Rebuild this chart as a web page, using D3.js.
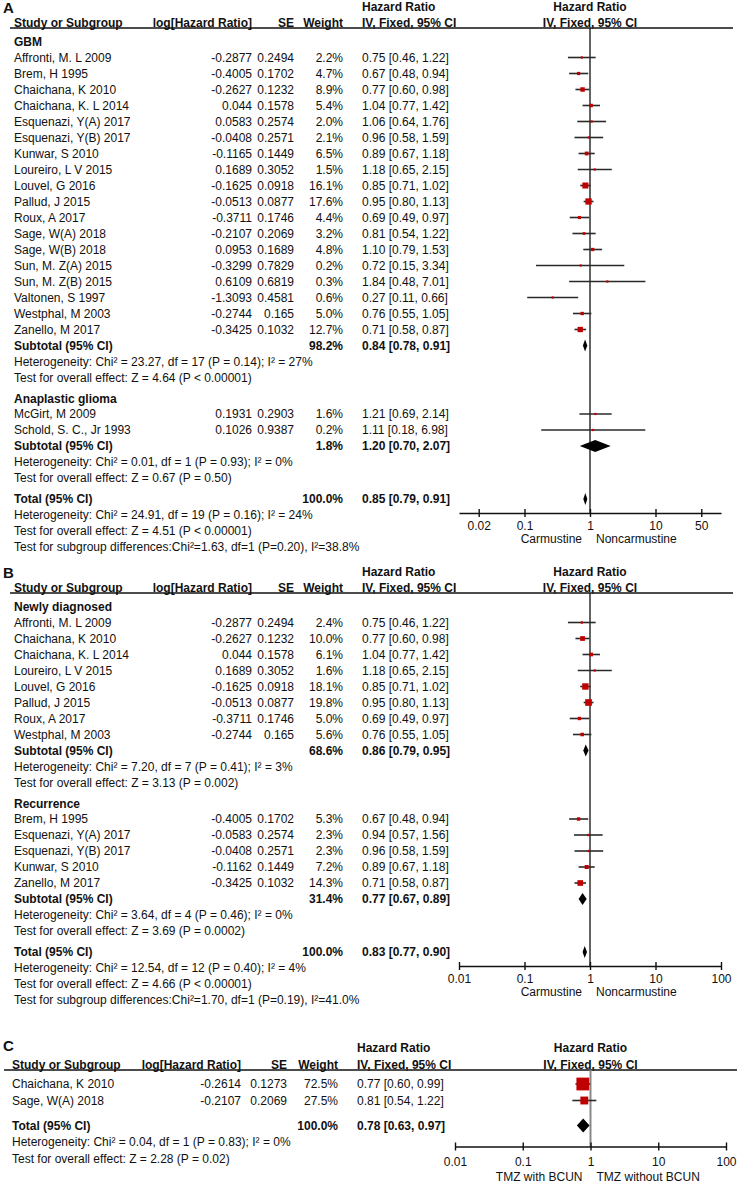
<!DOCTYPE html>
<html><head><meta charset="utf-8">
<script src="https://cdn.jsdelivr.net/npm/d3@7"></script>
<style>body{margin:0;background:#fff}</style>
</head><body><svg id="c" width="738" height="1184"></svg>
<script>
// ---------------- DATA ----------------
const columnHeaders = ["Study or Subgroup", "log[Hazard Ratio]", "SE", "Weight"];
const ciHeaders = ["Hazard Ratio", "IV, Fixed, 95% CI"];

// [study, logHR, SE, weight%, HR, lower, upper]
const gbmStudies = [
  ["Affronti, M. L 2009", -0.2877, 0.2494, 2.2, 0.75, 0.46, 1.22],
  ["Brem, H 1995", -0.4005, 0.1702, 4.7, 0.67, 0.48, 0.94],
  ["Chaichana, K 2010", -0.2627, 0.1232, 8.9, 0.77, 0.60, 0.98],
  ["Chaichana, K. L 2014", 0.044, 0.1578, 5.4, 1.04, 0.77, 1.42],
  ["Esquenazi, Y(A) 2017", 0.0583, 0.2574, 2.0, 1.06, 0.64, 1.76],
  ["Esquenazi, Y(B) 2017", -0.0408, 0.2571, 2.1, 0.96, 0.58, 1.59],
  ["Kunwar, S 2010", -0.1165, 0.1449, 6.5, 0.89, 0.67, 1.18],
  ["Loureiro, L V 2015", 0.1689, 0.3052, 1.5, 1.18, 0.65, 2.15],
  ["Louvel, G 2016", -0.1625, 0.0918, 16.1, 0.85, 0.71, 1.02],
  ["Pallud, J 2015", -0.0513, 0.0877, 17.6, 0.95, 0.80, 1.13],
  ["Roux, A 2017", -0.3711, 0.1746, 4.4, 0.69, 0.49, 0.97],
  ["Sage, W(A) 2018", -0.2107, 0.2069, 3.2, 0.81, 0.54, 1.22],
  ["Sage, W(B) 2018", 0.0953, 0.1689, 4.8, 1.10, 0.79, 1.53],
  ["Sun, M. Z(A) 2015", -0.3299, 0.7829, 0.2, 0.72, 0.15, 3.34],
  ["Sun, M. Z(B) 2015", 0.6109, 0.6819, 0.3, 1.84, 0.48, 7.01],
  ["Valtonen, S 1997", -1.3093, 0.4581, 0.6, 0.27, 0.11, 0.66],
  ["Westphal, M 2003", -0.2744, 0.165, 5.0, 0.76, 0.55, 1.05],
  ["Zanello, M 2017", -0.3425, 0.1032, 12.7, 0.71, 0.58, 0.87]
];
// [weight%, HR, lower, upper]
const gbmSubtotal = [98.2, 0.84, 0.78, 0.91];
const gbmStats = ["Heterogeneity: Chi\u00b2 = 23.27, df = 17 (P = 0.14); I\u00b2 = 27%",
                  "Test for overall effect: Z = 4.64 (P < 0.00001)"];

const agStudies = [
  ["McGirt, M 2009", 0.1931, 0.2903, 1.6, 1.21, 0.69, 2.14],
  ["Schold, S. C., Jr 1993", 0.1026, 0.9387, 0.2, 1.11, 0.18, 6.98]
];
const agSubtotal = [1.8, 1.20, 0.70, 2.07];
const agStats = ["Heterogeneity: Chi\u00b2 = 0.01, df = 1 (P = 0.93); I\u00b2 = 0%",
                 "Test for overall effect: Z = 0.67 (P = 0.50)"];

const totalA = [100.0, 0.85, 0.79, 0.91];
const totalAStats = ["Heterogeneity: Chi\u00b2 = 24.91, df = 19 (P = 0.16); I\u00b2 = 24%",
                     "Test for overall effect: Z = 4.51 (P < 0.00001)",
                     "Test for subgroup differences:Chi\u00b2=1.63, df=1 (P=0.20), I\u00b2=38.8%"];
const ticksA = [0.02, 0.1, 1, 10, 50];
const sideLabelsA = ["Carmustine", "Noncarmustine"];

const newStudies = [
  ["Affronti, M. L 2009", -0.2877, 0.2494, 2.4, 0.75, 0.46, 1.22],
  ["Chaichana, K 2010", -0.2627, 0.1232, 10.0, 0.77, 0.60, 0.98],
  ["Chaichana, K. L 2014", 0.044, 0.1578, 6.1, 1.04, 0.77, 1.42],
  ["Loureiro, L V 2015", 0.1689, 0.3052, 1.6, 1.18, 0.65, 2.15],
  ["Louvel, G 2016", -0.1625, 0.0918, 18.1, 0.85, 0.71, 1.02],
  ["Pallud, J 2015", -0.0513, 0.0877, 19.8, 0.95, 0.80, 1.13],
  ["Roux, A 2017", -0.3711, 0.1746, 5.0, 0.69, 0.49, 0.97],
  ["Westphal, M 2003", -0.2744, 0.165, 5.6, 0.76, 0.55, 1.05]
];
const newSubtotal = [68.6, 0.86, 0.79, 0.95];
const newStats = ["Heterogeneity: Chi\u00b2 = 7.20, df = 7 (P = 0.41); I\u00b2 = 3%",
                  "Test for overall effect: Z = 3.13 (P = 0.002)"];

const recStudies = [
  ["Brem, H 1995", -0.4005, 0.1702, 5.3, 0.67, 0.48, 0.94],
  ["Esquenazi, Y(A) 2017", -0.0583, 0.2574, 2.3, 0.94, 0.57, 1.56],
  ["Esquenazi, Y(B) 2017", -0.0408, 0.2571, 2.3, 0.96, 0.58, 1.59],
  ["Kunwar, S 2010", -0.1162, 0.1449, 7.2, 0.89, 0.67, 1.18],
  ["Zanello, M 2017", -0.3425, 0.1032, 14.3, 0.71, 0.58, 0.87]
];
const recSubtotal = [31.4, 0.77, 0.67, 0.89];
const recStats = ["Heterogeneity: Chi\u00b2 = 3.64, df = 4 (P = 0.46); I\u00b2 = 0%",
                  "Test for overall effect: Z = 3.69 (P = 0.0002)"];

const totalB = [100.0, 0.83, 0.77, 0.90];
const totalBStats = ["Heterogeneity: Chi\u00b2 = 12.54, df = 12 (P = 0.40); I\u00b2 = 4%",
                     "Test for overall effect: Z = 4.66 (P < 0.00001)",
                     "Test for subgroup differences:Chi\u00b2=1.70, df=1 (P=0.19), I\u00b2=41.0%"];
const ticksB = [0.01, 0.1, 1, 10, 100];
const sideLabelsB = ["Carmustine", "Noncarmustine"];

const cStudies = [
  ["Chaichana, K 2010", -0.2614, 0.1273, 72.5, 0.77, 0.60, 0.99],
  ["Sage, W(A) 2018", -0.2107, 0.2069, 27.5, 0.81, 0.54, 1.22]
];
const totalC = [100.0, 0.78, 0.63, 0.97];
const totalCStats = ["Heterogeneity: Chi\u00b2 = 0.04, df = 1 (P = 0.83); I\u00b2 = 0%",
                     "Test for overall effect: Z = 2.28 (P = 0.02)"];
const ticksC = [0.01, 0.1, 1, 10, 100];
const sideLabelsC = ["TMZ with BCUN", "TMZ without BCUN"];

// ---------------- DRAWING ----------------
const FONT = "'Liberation Sans', Arial, Helvetica, sans-serif";
const FS = 12;
const svg = d3.select("#c").style("font-family", FONT);
const RED = "#c00000", INK = "#111";

function txt(g, x, y, s, opt = {}) {
  return g.append("text").attr("x", x).attr("y", y)
    .attr("text-anchor", opt.anchor || "start")
    .attr("font-size", opt.size || FS)
    .attr("font-weight", opt.bold ? "bold" : "normal")
    .attr("fill", INK).text(s);
}
const fmtW = w => w.toFixed(1) + "%";
const fmtCI = (e, l, u) => `${e.toFixed(2)} [${l.toFixed(2)}, ${u.toFixed(2)}]`;

function drawPanel(cfg) {
  const g = svg.append("g");
  const c = cfg.cols;
  const x = d3.scaleLog().domain([0.01, 100]).range(cfg.range);
  const x1 = x(1);

  // panel letter + headers
  txt(g, cfg.letterX, cfg.letterY, cfg.letter, {bold: true, size: 15});
  const h1 = cfg.lineY - cfg.hGap - 1.5, h2 = cfg.lineY - 1.5;
  txt(g, c.ci, h1, ciHeaders[0], {bold: true});
  txt(g, c.ci, h2, ciHeaders[1], {bold: true});
  txt(g, x1, h1, ciHeaders[0], {bold: true, anchor: "middle"});
  txt(g, x1, h2, ciHeaders[1], {bold: true, anchor: "middle"});
  txt(g, c.name, h2, columnHeaders[0], {bold: true});
  txt(g, c.log, h2, columnHeaders[1], {bold: true, anchor: "end"});
  txt(g, c.se, h2, columnHeaders[2], {bold: true, anchor: "end"});
  txt(g, c.w, h2, columnHeaders[3], {bold: true, anchor: "end"});
  g.append("line").attr("x1", cfg.lineX[0]).attr("x2", cfg.lineX[1])
    .attr("y1", cfg.lineY).attr("y2", cfg.lineY)
    .attr("stroke", INK).attr("stroke-width", 1.4);

  // build rows
  let y = cfg.lineY;
  const step = cfg.step;
  const rowsG = g.append("g");
  const marks = g.append("g");
  const off = 4.3;
  function study(d) {
    const b = y + off;
    txt(rowsG, c.name, b, d[0]);
    txt(rowsG, c.log, b, String(d[1]), {anchor: "end"});
    txt(rowsG, c.se, b, String(d[2]), {anchor: "end"});
    txt(rowsG, c.w, b, fmtW(d[3]), {anchor: "end"});
    txt(rowsG, c.ci, b, fmtCI(d[4], d[5], d[6]));
    marks.append("line").attr("x1", x(d[5])).attr("x2", x(d[6]))
      .attr("y1", y).attr("y2", y).attr("stroke", "#2a2a2a").attr("stroke-width", 1.6);
    const s = Math.max(2.2, cfg.sq * Math.sqrt(d[3]));
    marks.append("rect").attr("x", x(d[4]) - s / 2).attr("y", y - s / 2)
      .attr("width", s).attr("height", s).attr("fill", RED);
  }
  function summary(label, d) {
    const b = y + off;
    txt(rowsG, c.name, b, label, {bold: true});
    txt(rowsG, c.w, b, fmtW(d[0]), {bold: true, anchor: "end"});
    txt(rowsG, c.ci, b, fmtCI(d[1], d[2], d[3]), {bold: true});
    const h = cfg.dh;
    marks.append("polygon").attr("points",
      [[x(d[2]), y], [x(d[1]), y - h], [x(d[3]), y], [x(d[1]), y + h]].map(p => p.join(",")).join(" "))
      .attr("fill", "#000");
  }
  function stat(s) { txt(rowsG, c.name, y + off, s); }

  cfg.groups.forEach((grp, gi) => {
    if (grp.title) {
      y += gi === 0 ? 14 : 21;
      txt(rowsG, c.name, y + off, grp.title, {bold: true});
      y += 15.5;
    } else {
      y += 14;
    }
    grp.studies.forEach((d, i) => { if (i > 0) y += step; study(d); });
    if (grp.subtotal) {
      y += step; summary("Subtotal (95% CI)", grp.subtotal);
      grp.stats.forEach(s => { y += step; stat(s); });
    }
  });
  y += cfg.totalGap;
  const totalY = y;
  summary("Total (95% CI)", cfg.total);
  cfg.totalStats.forEach(s => { y += step; stat(s); });

  // axis
  const axisY = totalY + cfg.axisOff;
  g.append("line").attr("x1", x1).attr("x2", x1).attr("y1", cfg.lineY).attr("y2", axisY)
    .attr("stroke", cfg.nullColor).attr("stroke-width", cfg.nullW);
  marks.raise();
  const ax = g.append("g").attr("transform", `translate(0,${axisY})`)
    .call(d3.axisBottom(x).tickValues(cfg.ticks).tickFormat(d => String(d))
      .tickSizeInner(4).tickSizeOuter(0));
  ax.attr("font-family", FONT).attr("font-size", FS);
  ax.select(".domain").attr("stroke", INK).attr("stroke-width", 1.4);
  ax.selectAll(".tick line").attr("y1", -4).attr("y2", 4).attr("stroke", INK).attr("stroke-width", 1.4);
  ax.selectAll(".tick text").attr("y", cfg.tickLab).attr("dy", null).attr("fill", INK);
  txt(g, x1 - 8, axisY + cfg.sideLab, cfg.sideLabels[0], {anchor: "end"});
  txt(g, x1 + 6, axisY + cfg.sideLab, cfg.sideLabels[1]);
}

const colsAB = {name: 14, log: 252, se: 294, w: 343, ci: 362};

drawPanel({
  letter: "A", letterX: 3, letterY: 13, lineY: 28, lineX: [10, 733], hGap: 16,
  cols: colsAB, range: [459, 721], step: 16, sq: 1.5, dh: 6,
  groups: [
    {title: "GBM", studies: gbmStudies, subtotal: gbmSubtotal, stats: gbmStats},
    {title: "Anaplastic glioma", studies: agStudies, subtotal: agSubtotal, stats: agStats}
  ],
  totalGap: 21, total: totalA, totalStats: totalAStats,
  axisOff: 14, tickLab: 17, sideLab: 30, ticks: ticksA, sideLabels: sideLabelsA,
  nullColor: "#222", nullW: 1.4
});

drawPanel({
  letter: "B", letterX: 3, letterY: 578, lineY: 593, lineX: [10, 733], hGap: 16,
  cols: colsAB, range: [459, 721], step: 16, sq: 1.5, dh: 6,
  groups: [
    {title: "Newly diagnosed", studies: newStudies, subtotal: newSubtotal, stats: newStats},
    {title: "Recurrence", studies: recStudies, subtotal: recSubtotal, stats: recStats}
  ],
  totalGap: 21, total: totalB, totalStats: totalBStats,
  axisOff: 14, tickLab: 17, sideLab: 30, ticks: ticksB, sideLabels: sideLabelsB,
  nullColor: "#222", nullW: 1.4
});

drawPanel({
  letter: "C", letterX: 3, letterY: 1051, lineY: 1070, lineX: [4, 737], hGap: 17,
  cols: {name: 12, log: 241, se: 287, w: 338, ci: 357}, range: [455, 726], step: 16.5, sq: 1.5, dh: 7,
  groups: [ {title: null, studies: cStudies} ],
  totalGap: 25, total: totalC, totalStats: totalCStats,
  axisOff: 21, tickLab: 19, sideLab: 34, ticks: ticksC, sideLabels: sideLabelsC,
  nullColor: "#888", nullW: 2
});
</script></body></html>
